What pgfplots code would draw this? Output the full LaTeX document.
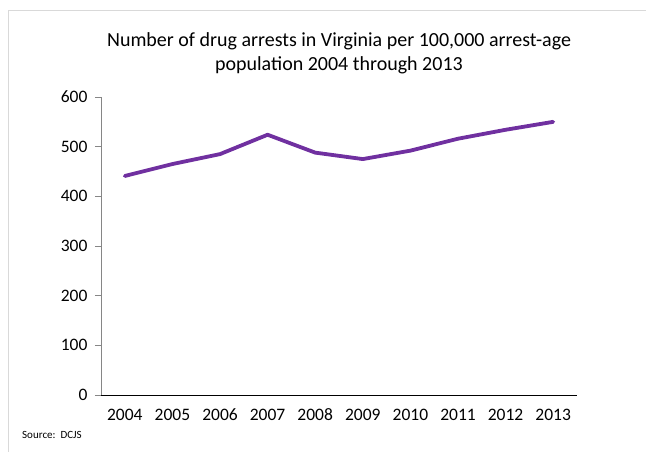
\documentclass[border=0pt]{standalone}
\usepackage{fontspec}
\setmainfont{Carlito}
\usepackage{pgfplots}
\pgfplotsset{compat=1.18}
\definecolor{linepurple}{RGB}{112,48,160}
\definecolor{axisgray}{RGB}{134,134,134}
\definecolor{bordergray}{RGB}{217,217,217}
\begin{document}
\begin{tikzpicture}[x=1pt,y=1pt]
\useasboundingbox (-101,-57) rectangle (545,395);
\draw[bordergray, line width=0.8pt] (-93,-57) -- (-93,385) -- (545,385);
\begin{axis}[name=ax, at={(0,0)}, anchor=south west,
  scale only axis, width=476pt, height=298pt,
  xmin=-0.5, xmax=9.5, ymin=0, ymax=600,
  ytick={0,100,...,600},
  xtick={0,...,9},
  xticklabels={2004,2005,2006,2007,2008,2009,2010,2011,2012,2013},
  axis x line*=bottom, axis y line*=left,
  x axis line style={black,-,line width=0.9pt},
  y axis line style={axisgray,-,line width=0.8pt},
  x tick style={draw=none},
  y tick style={axisgray,line width=0.8pt},
  tick align=outside,
  major tick length=6pt,
  /pgf/number format/assume math mode=true,
  ticklabel style={font=\fontsize{17.5}{20}\selectfont, text=black},
  yticklabel style={xshift=-4pt},
  xticklabel style={yshift=-4pt, text height=11.5pt, text depth=0pt},
]
\addplot[linepurple, line width=3.8pt, line join=round, line cap=round] coordinates {
 (0,441) (1,465) (2,485) (3,524) (4,488) (5,475) (6,492) (7,516) (8,534) (9,550)
};
\end{axis}
\node[align=center, font=\fontsize{20}{24}\selectfont] at (238,342) {Number of drug arrests in Virginia per 100,000 arrest-age\\population 2004 through 2013};
\node[anchor=west, font=\fontsize{11}{13}\selectfont, inner sep=0pt] at (-79,-40) {Source:\ \ DCJS};
\end{tikzpicture}
\end{document}
